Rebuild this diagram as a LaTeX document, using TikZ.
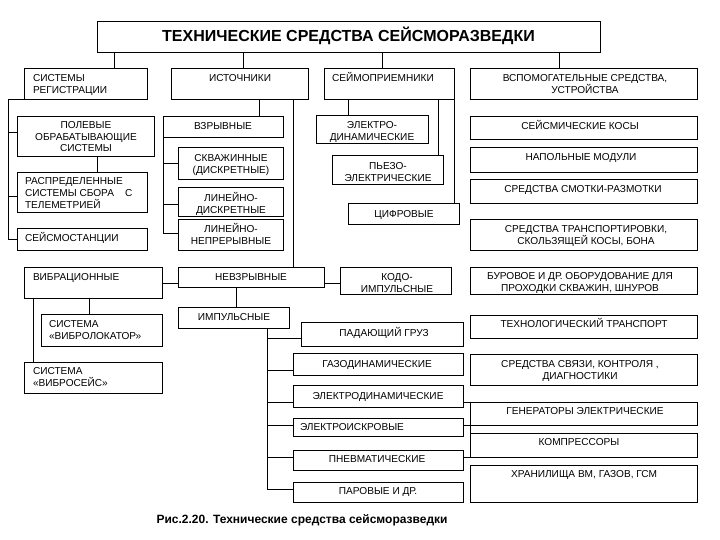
\documentclass[tikz,border=0pt]{standalone}
\usepackage{fontspec}
\setmainfont{Liberation Sans}
\usetikzlibrary{fit,calc}
\newcommand\myR{\rule{0pt}{10pt}}
\tikzset{
  box/.style={draw, line width=0.9pt, inner sep=0pt, outer sep=0pt, rectangle},
  tx/.style={inner sep=0pt, outer sep=0pt, anchor=north, yshift=6.4pt,
    font=\fontsize{10.1}{11.7}\selectfont, align=center},
  txl/.style={tx, anchor=north west, align=left},
  ln/.style={line width=0.9pt},
}
\newcommand\bx[5]{\node[box, fit={(#2,#3) (#4,#5)}] (#1) {};}
\begin{document}
\begin{tikzpicture}[x=1pt,y=-1pt]
\useasboundingbox (0,0) rectangle (720,540);
\fill[white] (0,0) rectangle (720,540);
% boxes
\bx{title}{97}{21}{600}{52}
\bx{reg}{24}{68}{147}{99}
\bx{ist}{171}{68}{308}{99}
\bx{sei}{324}{68}{454}{99}
\bx{vsp}{470}{68}{697}{99}
\bx{pol}{17}{116}{154}{156}
\bx{ras}{17}{172}{147}{212}
\bx{stn}{17}{228}{147}{250}
\bx{vzr}{163}{116}{283}{137}
\bx{skv}{178}{147}{283}{179}
\bx{lind}{178}{187}{283}{216}
\bx{linn}{178}{219}{283}{250}
\bx{el}{316}{115}{428}{143}
\bx{pz}{332}{155}{443}{184}
\bx{cif}{348}{203}{459}{224}
\bx{kosy}{470}{116}{697}{139}
\bx{nap}{470}{147}{697}{172}
\bx{smot}{470}{179}{697}{203}
\bx{trans}{470}{219}{697}{250}
\bx{vib}{24}{267}{162}{298}
\bx{nev}{178}{267}{324}{287}
\bx{kod}{340}{267}{451}{294}
\bx{bur}{470}{267}{697}{294}
\bx{vlok}{41}{314}{162}{346}
\bx{vsei}{24}{362}{162}{393}
\bx{imp}{178}{307}{289}{328}
\bx{pad}{301}{322}{463}{346}
\bx{gaz}{293}{353}{463}{375}
\bx{edin}{293}{385}{463}{407}
\bx{eisk}{293}{418}{463}{436}
\bx{pnev}{293}{450}{463}{470}
\bx{par}{293}{482}{463}{502}
\bx{tech}{470}{315}{697}{338}
\bx{svz}{470}{354}{697}{385}
\bx{gen}{470}{402}{697}{425}
\bx{komp}{470}{433}{697}{457}
\bx{hran}{470}{465}{697}{502}
% bus coordinates
\coordinate (bL) at (8,0);
\coordinate (bI) at (267,0);
% texts
\node[inner sep=0pt, anchor=base, font=\fontsize{16}{18}\selectfont\bfseries] (ttitle) at (348.5,41.7) {ТЕХНИЧЕСКИЕ СРЕДСТВА СЕЙСМОРАЗВЕДКИ};
\node[txl] (treg) at (33,78) {\myR СИСТЕМЫ\\РЕГИСТРАЦИИ};
\node[tx] (tist) at (240,78) {\myR ИСТОЧНИКИ};
\node[tx] (tsei) at (383,78) {\myR СЕЙМОПРИЕМНИКИ};
\node[tx] (tvsp) at (585,78) {\myR ВСПОМОГАТЕЛЬНЫЕ СРЕДСТВА,\\УСТРОЙСТВА};
\node[tx] (tpol) at (86,125) {\myR ПОЛЕВЫЕ\\ОБРАБАТЫВАЮЩИЕ\\СИСТЕМЫ};
\node[txl] (tras) at (25,181) {\myR РАСПРЕДЕЛЕННЫЕ\\СИСТЕМЫ СБОРА\hspace{11pt}С\\ТЕЛЕМЕТРИЕЙ};
\node[txl] (tstn) at (25,238) {\myR СЕЙСМОСТАНЦИИ};
\node[tx] (tvzr) at (223,126) {\myR ВЗРЫВНЫЕ};
\node[tx] (tskv) at (231,158) {\myR СКВАЖИННЫЕ\\(ДИСКРЕТНЫЕ)};
\node[tx] (tlind) at (231,198) {\myR ЛИНЕЙНО-\\ДИСКРЕТНЫЕ};
\node[tx] (tlinn) at (231,229) {\myR ЛИНЕЙНО-\\НЕПРЕРЫВНЫЕ};
\node[tx] (tel) at (372,125) {\myR ЭЛЕКТРО-\\ДИНАМИЧЕСКИЕ};
\node[tx] (tpz) at (388,166) {\myR ПЬЕЗО-\\ЭЛЕКТРИЧЕСКИЕ};
\node[tx] (tcif) at (404,214) {\myR ЦИФРОВЫЕ};
\node[tx] (tkosy) at (580,126) {\myR СЕЙСМИЧЕСКИЕ КОСЫ};
\node[tx] (tnap) at (581,157) {\myR НАПОЛЬНЫЕ МОДУЛИ};
\node[tx] (tsmot) at (583,189) {\myR СРЕДСТВА СМОТКИ-РАЗМОТКИ};
\node[tx] (ttrans) at (586,229) {\myR СРЕДСТВА ТРАНСПОРТИРОВКИ,\\СКОЛЬЗЯЩЕЙ КОСЫ, БОНА};
\node[txl] (tvib) at (33,277) {\myR ВИБРАЦИОННЫЕ};
\node[tx] (tnev) at (251,277) {\myR НЕВЗРЫВНЫЕ};
\node[tx] (tkod) at (397,277) {\myR КОДО-\\ИМПУЛЬСНЫЕ};
\node[tx] (tbur) at (580,276) {\myR БУРОВОЕ И ДР. ОБОРУДОВАНИЕ ДЛЯ\\ПРОХОДКИ СКВАЖИН, ШНУРОВ};
\node[txl] (tvlok) at (49,324) {\myR СИСТЕМА\\«ВИБРОЛОКАТОР»};
\node[txl] (tvsei) at (33,371) {\myR СИСТЕМА\\«ВИБРОСЕЙС»};
\node[tx] (timp) at (234,317) {\myR ИМПУЛЬСНЫЕ};
\node[tx] (tpad) at (384,333) {\myR ПАДАЮЩИЙ ГРУЗ};
\node[tx] (tgaz) at (377,364) {\myR ГАЗОДИНАМИЧЕСКИЕ};
\node[tx] (tedin) at (378,396) {\myR ЭЛЕКТРОДИНАМИЧЕСКИЕ};
\node[txl] (teisk) at (300,427) {\myR ЭЛЕКТРОИСКРОВЫЕ};
\node[tx] (tpnev) at (377,459) {\myR ПНЕВМАТИЧЕСКИЕ};
\node[tx] (tpar) at (378,491) {\myR ПАРОВЫЕ И ДР.};
\node[tx] (ttech) at (584,324) {\myR ТЕХНОЛОГИЧЕСКИЙ ТРАНСПОРТ};
\node[tx] (tsvz) at (580,364) {\myR СРЕДСТВА СВЯЗИ, КОНТРОЛЯ ,\\ДИАГНОСТИКИ};
\node[tx] (tgen) at (585,411) {\myR ГЕНЕРАТОРЫ ЭЛЕКТРИЧЕСКИЕ};
\node[tx] (tkomp) at (579,442) {\myR КОМПРЕССОРЫ};
\node[tx] (thran) at (584,474) {\myR ХРАНИЛИЩА ВМ, ГАЗОВ, ГСМ};
\node[inner sep=0pt, anchor=base, font=\fontsize{12}{14}\selectfont\bfseries] (cap) at (302,523) {Рис.2.20. Технические средства сейсморазведки};
% connectors from title
\draw[ln] (title.south -| 114,0) -- (reg.north -| 114,0);
\draw[ln] (title.south -| 243,0) -- (ist.north -| 243,0);
\draw[ln] (title.south -| 382,0) -- (sei.north -| 382,0);
\draw[ln] (title.south -| 559,0) -- (vsp.north -| 559,0);
% left column
\draw[ln] (reg.south west) -| (bL |- stn.west) -- (stn.west);
\draw[ln] (bL |- 0,132) -- (pol.west |- 0,132);
\draw[ln] (bL |- 0,196) -- (ras.west |- 0,196);
\draw[ln] (pol.south -| 97,0) -- (ras.north -| 97,0);
% sources
\draw[ln] (ist.south -| 259,0) -- (vzr.north -| 259,0);
\draw[ln] (vzr.south west) -- (vzr.south west |- 0,233) -- (linn.west |- 0,233);
\draw[ln] (vzr.south west |- 0,163) -- (skv.west |- 0,163);
\draw[ln] (vzr.south west |- 0,204) -- (lind.west |- 0,204);
\draw[ln] (ist.south -| 293,0) -- (nev.north -| 293,0);
\draw[ln] (vib.east |- 0,283) -- (nev.west |- 0,283);
\draw[ln] (nev.east |- 0,283) -- (kod.west |- 0,283);
\draw[ln] (vib.south -| 89,0) -- (vlok.north -| 89,0);
\draw[ln] (vib.south -| 33,0) -- (vsei.north -| 33,0);
\draw[ln] (nev.south -| 236,0) -- (imp.north -| 236,0);
\draw[ln] (imp.south -| bI) -- (bI |- 0,489) -- (par.west |- 0,489);
\draw[ln] (bI |- 0,338) -- (pad.west |- 0,338);
\draw[ln] (bI |- 0,370) -- (gaz.west |- 0,370);
\draw[ln] (bI |- 0,402) -- (edin.west |- 0,402);
\draw[ln] (bI |- 0,425) -- (eisk.west |- 0,425);
\draw[ln] (bI |- 0,457) -- (pnev.west |- 0,457);
% right stubs
\draw[ln] (edin.east |- 0,402) -- (gen.north west) -- (komp.south west);
\draw[ln] (eisk.east |- 0,425) -- (gen.south west);
\draw[ln] (pnev.east |- 0,457) -- (komp.south west);
% receivers
\draw[ln] (sei.south -| 348,0) -- (el.north -| 348,0);
\draw[ln] (sei.south -| 438,0) -- (pz.north -| 438,0);
\draw[ln] (sei.south east) -- (cif.north -| sei.south east);
\end{tikzpicture}
\end{document}
